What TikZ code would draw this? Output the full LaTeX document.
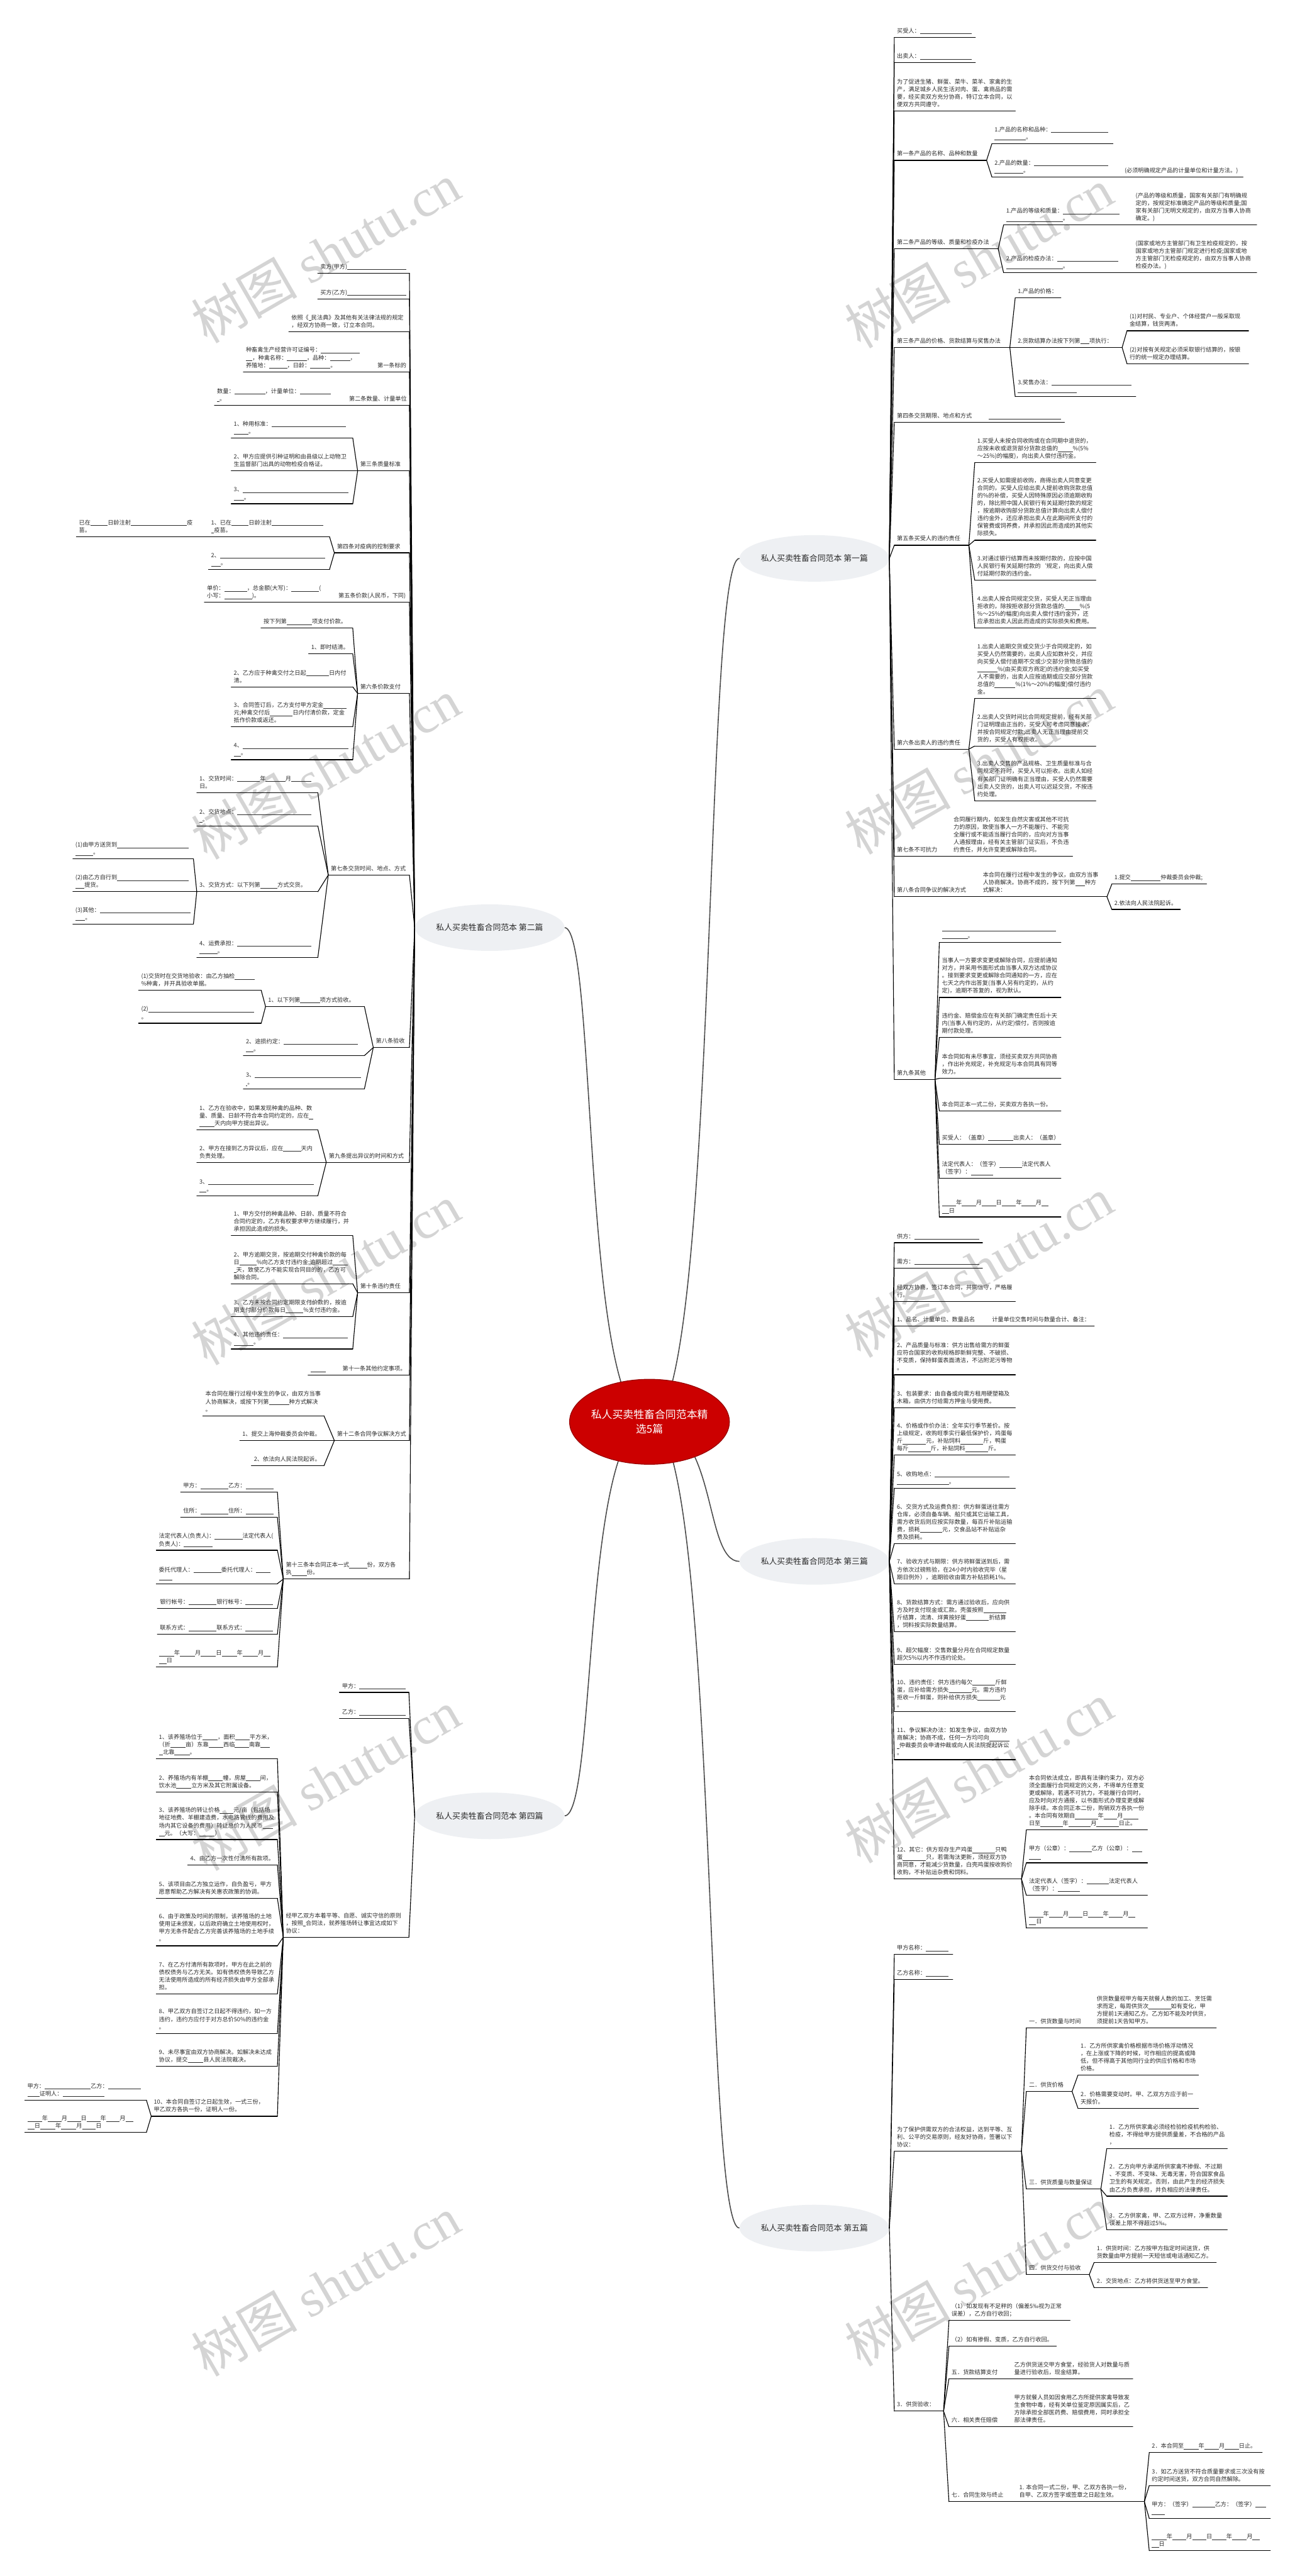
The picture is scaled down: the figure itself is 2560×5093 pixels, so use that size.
\documentclass[tikz,border=0pt]{standalone}
\usepackage{fontspec}
\setmainfont{Noto Sans CJK SC}
\newfontfamily\wmlat{Liberation Serif}
\usetikzlibrary{shapes.geometric}
\pgfdeclarelayer{bg}
\pgfsetlayers{bg,main}
\definecolor{txt}{HTML}{2B2B2B}
\definecolor{hubfill}{HTML}{EEF0F3}
\definecolor{cred}{HTML}{CC0000}
\newcommand{\bk}[1]{\rule[-1.8pt]{#1pt}{0.6pt}}
\newcommand{\LF}[5]{\pgfmathsetmacro{\lfw}{#3-#2-10}\node[leaf,text width=\lfw pt] (#1) at (#2,#4) {#5};\draw[conn] (#1.south west) -- (#1.south east);}
\newcommand{\cR}[2]{\foreach \chn in {#2}{\draw[conn] (#1.south east) -- (\chn.south west);}}
\newcommand{\cL}[2]{\foreach \chn in {#2}{\draw[conn] (#1.south west) -- (\chn.south east);}}
\newcommand{\hR}[2]{\foreach \chn in {#2}{\draw[conn] (#1.east) -- (\chn.south west);}}
\newcommand{\hL}[2]{\foreach \chn in {#2}{\draw[conn] (#1.west) -- (\chn.south east);}}
\begin{document}
\begin{tikzpicture}[x=1pt,y=-1pt,
  leaf/.style={anchor=south west, inner xsep=5pt, inner ysep=4pt, align=left, font=\fontsize{11.4pt}{15pt}\selectfont, text=txt, execute at end node=\strut},
  conn/.style={line width=1.4pt, black, line cap=round, line join=round},
  hub/.style={ellipse, fill=hubfill, minimum width=296pt, minimum height=92pt, inner sep=0pt, font=\fontsize{16pt}{20pt}\selectfont, text=txt},
  cnode/.style={ellipse, fill=cred, draw=cred!75!black, line width=1.5pt, minimum width=316pt, minimum height=168pt, inner sep=0pt},
  link/.style={line width=2pt, black!70},
  wm/.style={rotate=30, text=black!17, font=\fontsize{105pt}{105pt}\selectfont}]
\useasboundingbox (0,0) rectangle (2560,5093);
\begin{pgfonlayer}{bg}
\fill[white] (0,0) rectangle (2560,5093);
\foreach \wy in {500,1520,2520,3520,4520}{\node[wm] at (644,\wy) {树图 {\wmlat shutu.cn}};}
\foreach \wy in {510,1510,2505,3505,4500}{\node[wm] at (1935,\wy) {树图 {\wmlat shutu.cn}};}
\end{pgfonlayer}

% centre and hubs
\node[cnode] (c) at (1284,2811) {};
\node[text=white, align=center, font=\fontsize{21pt}{28pt}\selectfont] (ct) at (c.center) {私人买卖牲畜合同范本精\\选5篇};
\node[hub] (h1) at (1610,1104) {\makebox[0pt]{私人买卖牲畜合同范本 第一篇}};
\node[hub] (h2) at (968,1834) {\makebox[0pt]{私人买卖牲畜合同范本 第二篇}};
\node[hub] (h3) at (1610,3087) {\makebox[0pt]{私人买卖牲畜合同范本 第三篇}};
\node[hub] (h4) at (968,3590) {\makebox[0pt]{私人买卖牲畜合同范本 第四篇}};
\node[hub] (h5) at (1610,4405) {\makebox[0pt]{私人买卖牲畜合同范本 第五篇}};

% ---------- 第二篇 ----------
\LF{a1}{628}{809}{540}{卖方(甲方)\bk{117}}
\LF{a2}{628}{809}{591}{买方(乙方)\bk{117}}
\LF{a3}{571}{809}{656}{依照《\bk{5}民法典》及其他有关法律法规的规定\\，经双方协商一致，订立本合同。}
\LF{a4}{741}{809}{735}{第一条标的}
\LF{a4c}{481}{741}{735}{种畜禽生产经营许可证编号：\bk{77}\\\bk{13}，种禽名称：\bk{39}，品种：\bk{40}，\\养殖地：\bk{36}，日龄：\bk{40}。}
\LF{a5}{685}{809}{801}{第二条数量、计量单位}
\LF{a5c}{424}{685}{801}{数量：\bk{61}，计量单位：\bk{61}\\\bk{5}。}
\LF{a6}{707}{809}{931}{第三条质量标准}
\LF{a6a}{457}{697}{866}{1、种用标准：\bk{147}\\\bk{29}。}
\LF{a6b}{457}{697}{931}{2、甲方应提供引种证明和由县级以上动物卫\\生监督部门出具的动物检疫合格证。}
\LF{a6c}{457}{697}{996}{3、\bk{209}\\\bk{20}。}
\LF{a7}{661}{809}{1093}{第四条对疫病的控制要求}
\LF{a7a}{412}{651}{1061}{1、已在\bk{34}日龄注射\bk{102}\\\bk{6}疫苗。}
\LF{a7a1}{151}{412}{1061}{已在\bk{34}日龄注射\bk{111}疫\\苗。}
\LF{a7b}{412}{651}{1126}{2、\bk{208}\\\bk{19}。}
\LF{a8}{664}{809}{1191}{第五条价款(人民币，下同)}
\LF{a8c}{404}{664}{1191}{单价：\bk{45}，总金额(大写)：\bk{55}(\\小写：\bk{55})。}
\LF{a9}{707}{809}{1371}{第六条价款支付}
\LF{a9a}{516}{697}{1242}{按下列第\bk{50}项支付价款。}
\LF{a9b}{610}{697}{1293}{1、即时结清。}
\LF{a9c}{457}{697}{1358}{2、乙方应于种禽交付之日起\bk{45}日内付\\清。}
\LF{a9d}{457}{697}{1437}{3、合同签订后，乙方支付甲方定金\bk{45}\\元;种禽交付后\bk{45}日内付清价款，定金\\抵作价款或返还。}
\LF{a9e}{457}{697}{1502}{4、\bk{209}\\\bk{14}。}
\LF{a10}{649}{809}{1730}{第七条交货时间、地点、方式}
\LF{a10a}{389}{628}{1567}{1、交货时间：\bk{45}年\bk{39}月\bk{40}\\日。}
\LF{a10b}{389}{628}{1633}{2、交货地点：\bk{147}\\\bk{6}。}
\LF{a10c}{389}{628}{1763}{3、交货方式：以下列第\bk{34}方式交货。}
\LF{g10c1}{144}{382}{1698}{(1)由甲方送货到\bk{142}\\\bk{35}。}
\LF{g10c2}{144}{382}{1763}{(2)由乙方自行到\bk{142}\\\bk{18}提货。}
\LF{g10c3}{144}{382}{1827}{(3)其他：\bk{179}\\\bk{19}。}
\LF{a10d}{389}{628}{1893}{4、运费承担：\bk{147}\\\bk{36}。}
\LF{a11}{738}{809}{2071}{第八条验收}
\LF{a11a}{525}{720}{1990}{1、以下列第\bk{39}项方式验收。}
\LF{g11a1}{274}{516}{1958}{(1)交货时在交货地验收：由乙方抽检\bk{39}\\\%种禽，并开具验收单据。}
\LF{g11a2}{274}{516}{2023}{(2)\bk{209}\\。}
\LF{a11b}{481}{720}{2087}{2、途损约定：\bk{147}\\\bk{15}。}
\LF{a11c}{481}{720}{2153}{3、\bk{210}\\\bk{3}。}
\LF{a12}{645}{809}{2298}{第九条提出异议的时间和方式}
\LF{a12a}{389}{628}{2234}{1、乙方在验收中，如果发现种禽的品种、数\\量、质量、日龄不符合本合同约定的，应在\bk{9}\\\bk{30}天内向甲方提出异议。}
\LF{a12b}{389}{628}{2298}{2、甲方在接到乙方异议后，应在\bk{35}天内\\负责处理。}
\LF{a12c}{389}{628}{2364}{3、\bk{209}\\\bk{14}。}
\LF{a13}{707}{809}{2556}{第十条违约责任}
\LF{a13a}{457}{697}{2443}{1、甲方交付的种禽品种、日龄、质量不符合\\合同约定的，乙方有权要求甲方继续履行，并\\承担因此造成的损失。}
\LF{a13b}{457}{697}{2538}{2、甲方逾期交货，按逾期交付种禽价款的每\\日\bk{34}\%向乙方支付违约金;逾期超过\bk{30}\\\bk{5}天，致使乙方不能实现合同目的的，乙方可\\解除合同。}
\LF{a13c}{457}{697}{2603}{3、乙方未按合同约定期限支付价款的，按逾\\期支付部分价款每日\bk{35}\%支付违约金。}
\LF{a13d}{457}{697}{2667}{4、其他违约责任：\bk{128}\\\bk{39}。}
\LF{a14}{672}{809}{2719}{第十一条其他约定事项。}
\LF{a14c}{609}{672}{2719}{\bk{30}}
\LF{a15}{661}{809}{2848}{第十二条合同争议解决方式}
\LF{a15a}{401}{640}{2799}{本合同在履行过程中发生的争议，由双方当事\\人协商解决，或按下列第\bk{40}种方式解决\\。}
\LF{a15b}{474}{640}{2848}{1、提交上海仲裁委员会仲裁。}
\LF{a15c}{497}{640}{2898}{2、依法向人民法院起诉。}
\LF{a16}{560}{809}{3122}{第十三条本合同正本一式\bk{35}份，双方各\\执\bk{30}份。}
\LF{a16a}{357}{548}{2950}{甲方：\bk{55}乙方：\bk{55}}
\LF{a16b}{357}{548}{3000}{住所：\bk{55}住所：\bk{55}}
\LF{a16c}{309}{548}{3065}{法定代表人(负责人)：\bk{55}法定代表人(\\负责人)：\bk{56}}
\LF{a16d}{309}{548}{3131}{委托代理人：\bk{55}委托代理人：\bk{29}\\\bk{26}}
\LF{a16e}{311}{548}{3180}{银行帐号：\bk{55}银行帐号：\bk{55}}
\LF{a16f}{311}{548}{3231}{联系方式：\bk{55}联系方式：\bk{55}}
\LF{a16g}{309}{548}{3296}{\bk{30}年\bk{30}月\bk{30}日\bk{30}年\bk{30}月\bk{14}\\\bk{15}日}

\hL{h2}{a1,a2,a3,a4,a5,a6,a7,a8,a9,a10,a11,a12,a13,a14,a15,a16}
\cL{a4}{a4c}\cL{a5}{a5c}\cL{a6}{a6a,a6b,a6c}\cL{a7}{a7a,a7b}\cL{a7a}{a7a1}\cL{a8}{a8c}
\cL{a9}{a9a,a9b,a9c,a9d,a9e}\cL{a10}{a10a,a10b,a10c,a10d}\cL{a10c}{g10c1,g10c2,g10c3}
\cL{a11}{a11a,a11b,a11c}\cL{a11a}{g11a1,g11a2}\cL{a12}{a12a,a12b,a12c}\cL{a13}{a13a,a13b,a13c,a13d}
\cL{a14}{a14c}\cL{a15}{a15a,a15b,a15c}\cL{a16}{a16a,a16b,a16c,a16d,a16e,a16f,a16g}

% ---------- 第四篇 ----------
\LF{b1}{671}{808}{3346}{甲方：\bk{91}}
\LF{b2}{671}{808}{3398}{乙方：\bk{91}}
\LF{b3}{560}{808}{3830}{经甲乙双方本着平等、自愿、诚实守信的原则\\，按照\bk{5}合同法，就养殖场转让事宜达成如下\\协议：}
\LF{b3a}{309}{548}{3477}{1、该养殖场位于\bk{30}，面积\bk{29}平方米，\\（折\bk{30}亩）东靠\bk{29}西临\bk{28}南靠\bk{18}\\\bk{8}北靠\bk{30}。}
\LF{b3b}{309}{548}{3543}{2、养殖场内有羊棚\bk{29}幢，房屋\bk{28}间，\\饮水池\bk{30}立方米及其它附属设备。}
\LF{b3c}{309}{548}{3637}{3、该养殖场的转让价格\bk{27}元/亩（包括场\\地征地费、羊棚建造费，水电路管线的费用及\\场内其它设备的费用）转让总价为人民币\bk{20}\\\bk{11}元。（大写：\bk{31}）}
\LF{b3d}{371}{548}{3687}{4、由乙方一次性付清所有款项。}
\LF{b3e}{309}{548}{3753}{5、该项目由乙方独立运作，自负盈亏，甲方\\愿意帮助乙方解决有关惠农政策的协调。}
\LF{b3f}{309}{548}{3847}{6、由于政策及时间的限制，该养殖场的土地\\使用证未颁发，以后政府确立土地使用权时，\\甲方无条件配合乙方完善该养殖场的土地手续\\。}
\LF{b3g}{309}{548}{3942}{7、在乙方付清所有款项时，甲方在此之前的\\债权债务与乙方无关。如有债权债务导致乙方\\无法使用所造成的所有经济损失由甲方全部承\\担。}
\LF{b3h}{309}{548}{4020}{8、甲乙双方自签订之日起不得违约，如一方\\违约，违约方应付于对方总价50\%的违约金\\。}
\LF{b3i}{309}{548}{4085}{9、未尽事宜由双方协商解决。如解决未达成\\协议，提交\bk{31}县人民法院裁决。}
\LF{b3j}{299}{548}{4184}{10、本合同自签订之日起生效，一式三份，\\甲乙双方各执一份，证明人一份。}
\LF{g3j1}{49}{289}{4152}{甲方：\bk{91}乙方：\bk{65}\\\bk{24}证明人：\bk{82}}
\LF{g3j2}{49}{289}{4216}{\bk{29}年\bk{27}月\bk{27}日\bk{27}年\bk{27}月\bk{15}\\\bk{14}日\bk{30}年\bk{30}月\bk{27}日}

\hL{h4}{b1,b2,b3}
\cL{b3}{b3a,b3b,b3c,b3d,b3e,b3f,b3g,b3h,b3i,b3j}\cL{b3j}{g3j1,g3j2}

% ---------- 第一篇 ----------
\LF{c1}{1768}{1928}{74}{买受人：\bk{102}}
\LF{c2}{1768}{1928}{124}{出卖人：\bk{102}}
\LF{c3}{1768}{2007}{220}{为了促进生猪、鲜蛋、菜牛、菜羊、家禽的生\\产，满足城乡人民生活对肉、蛋、禽商品的需\\要，经买卖双方充分协商，特订立本合同，以\\便双方共同遵守。}
\LF{c4}{1768}{1950}{317}{第一条产品的名称、品种和数量}
\LF{c4a}{1961}{2200}{284}{1.产品的名称和品种：\bk{112}\\\bk{62}。}
\LF{c4b}{1961}{2218}{350}{2.产品的数量：\bk{147}\\\bk{57}。}
\LF{c4b1}{2218}{2457}{350}{(必须明确规定产品的计量单位和计量方法。)}
\LF{c5}{1768}{1973}{492}{第二条产品的等级、质量和检疫办法}
\LF{c5a}{1984}{2240}{445}{1.产品的等级和质量：\bk{112}\\\bk{112}。}
\LF{c5a1}{2240}{2484}{445}{(产品的等级和质量，国家有关部门有明确规\\定的，按规定标准确定产品的等级和质量;国\\家有关部门无明文规定的，由双方当事人协商\\确定。)}
\LF{c5b}{1984}{2240}{539}{2.产品的检疫办法：\bk{121}\\\bk{112}。}
\LF{c5b1}{2240}{2484}{539}{(国家或地方主管部门有卫生检疫规定的，按\\国家或地方主管部门规定进行检疫;国家或地\\方主管部门无检疫规定的，由双方当事人协商\\检疫办法。)}
\LF{c6}{1768}{1996}{687}{第三条产品的价格、货款结算与奖售办法}
\LF{c6a}{2007}{2097}{589}{1.产品的价格：}
\LF{c6b}{2007}{2218}{687}{2.货款结算办法按下列第\bk{18}项执行：}
\LF{c6b1}{2228}{2468}{654}{(1)对村民、专业户、个体经营户一般采取现\\金结算，钱货两清。}
\LF{c6b2}{2228}{2468}{719}{(2)对按有关规定必须采取银行结算的，按银\\行的统一规定办理结算。}
\LF{c6c}{2007}{2245}{784}{3.奖售办法：\bk{158}\\\bk{117}}
\LF{c7}{1768}{1946}{835}{第四条交货期限、地点和方式}
\LF{c7a}{1946}{2104}{835}{\hspace*{4pt}\bk{143}}
\LF{c8}{1768}{1915}{1078}{第五条买受人的违约责任}
\LF{c8a}{1927}{2166}{915}{1.买受人未按合同收购或在合同期中退货的，\\应按未收或退货部分货款总值的\bk{29}\%(5\%\\～25\%)的幅度)，向出卖人偿付违约金。}
\LF{c8b}{1927}{2166}{1068}{2.买受人如需提前收购，商得出卖人同意变更\\合同的，买受人应给出卖人提前收购货款总值\\的\%的补偿，买受人因特殊原因必须逾期收购\\的，除比照中国人民银行有关延期付款的规定\\，按逾期收购部分货款总值计算向出卖人偿付\\违约金外，还应承担出卖人在此期间所支付的\\保管费或饲养费，并承担因此而造成的其他实\\际损失。}
\LF{c8c}{1927}{2166}{1147}{3.对通过银行结算而未按期付款的，应按中国\\人民银行有关延期付款的`规定，向出卖人偿\\付延期付款的违约金。}
\LF{c8d}{1927}{2166}{1242}{4.出卖人按合同规定交货，买受人无正当理由\\拒收的，除按拒收部分货款总值的.\bk{28}\%(5\\\%～25\%的幅度)向出卖人偿付违约金外，还\\应承担出卖人因此而造成的实际损失和费用。}
\LF{c9}{1768}{1915}{1481}{第六条出卖人的违约责任}
\LF{c9a}{1927}{2166}{1381}{1.出卖人逾期交货或交货少于合同规定的，如\\买受人仍然需要的，出卖人应如数补交，并应\\向买受人偿付逾期不交或少交部分货物总值的\\\bk{40}\%(由买卖双方商定)的违约金;如买受\\人不需要的，出卖人应按逾期或应交部分货款\\总值的\bk{41}\%(1\%～20\%的幅度)偿付违约\\金。}
\LF{c9b}{1927}{2166}{1475}{2.出卖人交货时间比合同规定提前，经有关部\\门证明理由正当的，买受人可考虑同意接收，\\并按合同规定付款;出卖人无正当理由提前交\\货的，买受人有权拒收。}
\LF{c9c}{1927}{2166}{1583}{3.出卖人交售的产品规格、卫生质量标准与合\\同规定不符时，买受人可以拒收。出卖人如经\\有关部门证明确有正当理由，买受人仍然需要\\出卖人交货的，出卖人可以迟延交货，不按违\\约处理。}
\LF{c10}{1768}{1880}{1693}{第七条不可抗力}
\LF{c10a}{1880}{2120}{1693}{合同履行期内，如发生自然灾害或其他不可抗\\力的原因，致使当事人一方不能履行、不能完\\全履行或不能适当履行合同的，应向对方当事\\人通报理由，经有关主管部门证实后，不负违\\约责任，并允许变更或解除合同。}
\LF{c11}{1768}{1938}{1773}{第八条合同争议的解决方式}
\LF{c11a}{1938}{2188}{1773}{本合同在履行过程中发生的争议，由双方当事\\人协商解决。协商不成的，按下列第\bk{19}种方\\式解决：}
\LF{c11a1}{2198}{2385}{1748}{1.提交\bk{59}仲裁委员会仲裁;}
\LF{c11a2}{2198}{2333}{1798}{2.依法向人民法院起诉。}
\LF{c12}{1768}{1848}{2134}{第九条其他}
\LF{c12a}{1857}{2097}{1863}{\bk{225}\\\bk{51}。}
\LF{c12b}{1857}{2097}{1972}{当事人一方要求变更或解除合同，应提前通知\\对方，并采用书面形式由当事人双方达成协议\\。接到要求变更或解除合同通知的一方，应在\\七天之内作出答复(当事人另有约定的，从约\\定)，逾期不答复的，视为默认。}
\LF{c12c}{1857}{2097}{2051}{违约金、赔偿金应在有关部门确定责任后十天\\内(当事人有约定的，从约定)偿付，否则按逾\\期付款处理。}
\LF{c12d}{1857}{2097}{2132}{本合同如有未尽事宜，须经买卖双方共同协商\\，作出补充规定，补充规定与本合同具有同等\\效力。}
\LF{c12e}{1857}{2097}{2196}{本合同正本一式二份，买卖双方各执一份。}
\LF{c12f}{1857}{2097}{2262}{买受人：（盖章）\bk{50}出卖人：（盖章）}
\LF{c12g}{1857}{2097}{2330}{法定代表人：（签字）\bk{44}法定代表人\\（签字）：\bk{44}}
\LF{c12h}{1857}{2097}{2406}{\bk{28}年\bk{28}月\bk{28}日\bk{28}年\bk{28}月\bk{14}\\\bk{14}日}

\hR{h1}{c1,c2,c3,c4,c5,c6,c7,c8,c9,c10,c11,c12}
\cR{c4}{c4a,c4b}\cR{c4b}{c4b1}\cR{c5}{c5a,c5b}\cR{c5a}{c5a1}\cR{c5b}{c5b1}
\cR{c6}{c6a,c6b,c6c}\cR{c6b}{c6b1,c6b2}\cR{c7}{c7a}\cR{c8}{c8a,c8b,c8c,c8d}\cR{c9}{c9a,c9b,c9c}
\cR{c10}{c10a}\cR{c11}{c11a}\cR{c11a}{c11a1,c11a2}\cR{c12}{c12a,c12b,c12c,c12d,c12e,c12f,c12g,c12h}

% ---------- 第三篇 ----------
\LF{d1}{1768}{1942}{2457}{供方：\bk{128}}
\LF{d2}{1768}{1942}{2507}{需方：\bk{128}}
\LF{d3}{1768}{2007}{2573}{经双方协商，签订本合同，共同信守，严格履\\行。}
\LF{d4}{1768}{1956}{2622}{1、品名、计量单位、数量品名}
\LF{d4a}{1956}{2163}{2622}{计量单位交售时间与数量合计、备注：}
\LF{d5}{1768}{2007}{2718}{2、产品质量与标准：供方出售给需方的鲜蛋\\应符合国家的收购规格即新鲜完整、不破损、\\不变质，保持鲜蛋表面清洁，不沾附泥污等物\\。}
\LF{d6}{1768}{2007}{2783}{3、包装要求：由自备或向需方租用硬塑箱及\\木箱，由供方付给需方押金与使用费。}
\LF{d7}{1768}{2007}{2877}{4、价格或作价办法：全年实行季节差价。按\\上级规定，收购旺季实行最低保护价，鸡蛋每\\斤\bk{46}元，补贴饲料\bk{45}斤，鸭蛋\\每斤\bk{44}斤，补贴饲料\bk{45}斤。}
\LF{d8}{1768}{2007}{2942}{5、收购地点：\bk{148}\\\bk{103}。}
\LF{d9}{1768}{2007}{3052}{6、交货方式及运费负担：供方鲜蛋送往需方\\仓库，必须自备车辆、船只或其它运输工具，\\需方收货后则应按实际数量，每百斤补贴运输\\费，损耗\bk{44}元，交食品站不补贴运杂\\费及损耗。}
\LF{d10}{1768}{2007}{3131}{7、验收方式与期限：供方将鲜蛋送到后，需\\方依次过磅熊验，在24小时内验收完毕（星\\期日例外），逾期验收由需方补贴损耗1\%。}
\LF{d11}{1768}{2007}{3226}{8、货款结算方式：需方通过验收后，应向供\\方及时支付现金或汇款。壳蛋按照\bk{45}\\斤结算，流清、烊黄按好蛋\bk{45}折结算\\，饲料按实际数量结算。}
\LF{d12}{1768}{2007}{3291}{9、超欠幅度：交售数量分月在合同规定数量\\超欠5\%以内不作违约论处。}
\LF{d13}{1768}{2007}{3384}{10、违约责任：供方违约每欠\bk{45}斤鲜\\蛋，应补给需方损失\bk{45}元。需方违约\\拒收一斤鲜蛋，则补给供方损失\bk{44}元\\。}
\LF{d14}{1768}{2007}{3479}{11、争议解决办法：如发生争议，由双方协\\商解决；协商不成，任何一方均可向\bk{40}\\\bk{5}仲裁委员会申请仲裁或向人民法院提起诉讼\\。}
\LF{d15}{1768}{2019}{3715}{12、其它：供方现存生产鸡蛋\bk{45}只鸭\\蛋\bk{46}只，若需淘汰更新，须经双方协\\商同意，才能减少货数量，白壳鸡蛋按收购价\\收购，不补贴运杂费和饲料。}
\LF{d15a}{2029}{2268}{3618}{本合同依法成立，即具有法律约束力，双方必\\须全面履行合同规定的义务，不得单方任意变\\更或解除，若遇不可抗力，不能履行合同时，\\应及时向对方通报，以书面形式办理变更或解\\除手续。本合同正本二份，购销双方各执一份\\。本合同有效期自\bk{45}年\bk{27}月\bk{30}\\日至\bk{44}年\bk{44}月\bk{44}日止。}
\LF{d15b}{2029}{2268}{3683}{甲方（公章）：\bk{44}乙方（公章）：\bk{20}\\\bk{24}}
\LF{d15c}{2029}{2268}{3747}{法定代表人（签字）：\bk{44}法定代表人\\（签字）：\bk{44}}
\LF{d15d}{2029}{2268}{3812}{\bk{28}年\bk{28}月\bk{27}日\bk{29}年\bk{28}月\bk{13}\\\bk{14}日}

\hR{h3}{d1,d2,d3,d4,d5,d6,d7,d8,d9,d10,d11,d12,d13,d14,d15}
\cR{d4}{d4a}\cR{d15}{d15a,d15b,d15c,d15d}

% ---------- 第五篇 ----------
\LF{e1}{1768}{1883}{3864}{甲方名称：\bk{45}}
\LF{e2}{1768}{1883}{3914}{乙方名称：\bk{45}}
\LF{e3}{1768}{2019}{4253}{为了保护供需双方的合法权益，达到平等、互\\利、公平的交易原则，经友好协商，签署以下\\协议：}
\LF{e3a}{2029}{2163}{4009}{一．供货数量与时间}
\LF{e3a1}{2163}{2404}{4009}{供货数量视甲方每天就餐人数的加工、烹饪需\\求而定，每周供货次\bk{44}如有变化，甲\\方提前1天通知乙方。乙方如不能及时供货，\\须提前1天告知甲方。}
\LF{e3b}{2029}{2119}{4135}{二．供货价格}
\LF{e3b1}{2131}{2369}{4103}{1．乙方所供家禽价格根据市场价格浮动情况\\，在上涨或下降的时候，可作相应的提高或降\\低，但不得高于其他同行业的供应价格和市场\\价格。}
\LF{e3b2}{2131}{2369}{4168}{2．价格需要变动时。甲、乙双方方应于前一\\天报价。}
\LF{e3c}{2029}{2176}{4328}{三．供货质量与数量保证}
\LF{e3c1}{2188}{2426}{4248}{1．乙方所供家禽必须经检验检疫机构检验、\\检疫，不得给甲方提供质量差，不合格的产品\\，}
\LF{e3c2}{2188}{2426}{4342}{2．乙方向甲方承诺所供家禽不掺假、不过期\\、不变质、不变味、无毒无害，符合国家食品\\卫生的有关规定。否则，由此产生的经济损失\\由乙方负责承担，并负相应的法律责任。}
\LF{e3c3}{2188}{2426}{4408}{3．乙方供家禽，甲、乙双方过秤，净重数量\\误差上限不得超过5‰。}
\LF{e3d}{2029}{2153}{4497}{四．供货交付与验收}
\LF{e3d1}{2163}{2404}{4473}{1．供货时间：乙方按甲方指定时间送货，供\\货数量由甲方提前一天短信或电话通知乙方。}
\LF{e3d2}{2163}{2387}{4523}{2．交货地点：乙方将供货送至甲方食堂。}
\LF{e4}{1768}{1865}{4767}{3．供货验收：}
\LF{e4a}{1876}{2115}{4588}{（1）如发现有不足秤的（偏差5‰视为正常\\误差），乙方自行收回；}
\LF{e4b}{1876}{2088}{4639}{（2）如有掺假、变质，乙方自行收回。}
\LF{e4c}{1876}{2000}{4703}{五．货款结算支付}
\LF{e4c1}{2000}{2239}{4703}{乙方供货送交甲方食堂，经验货人对数量与质\\量进行验收后，现金结算。}
\LF{e4d}{1876}{2000}{4798}{六．相关责任赔偿}
\LF{e4d1}{2000}{2239}{4798}{甲方就餐人员如因食用乙方所提供家禽导致发\\生食物中毒，经有关单位鉴定原因属实后，乙\\方除承担全部医药费、赔偿费用，同时承担全\\部法律责任。}
\LF{e4e}{1876}{2010}{4946}{七．合同生效与终止}
\LF{e4e1}{2010}{2262}{4946}{1.~本合同一式二份，甲、乙双方各执一份，\\自甲、乙双方签字或签章之日起生效。}
\LF{g4e1}{2272}{2495}{4849}{2．本合同至\bk{29}年\bk{29}月\bk{28}日止。}
\LF{g4e2}{2272}{2511}{4914}{3．如乙方送货不符合质量要求或三次没有按\\约定时间送货，双方合同自然解除。}
\LF{g4e3}{2272}{2511}{4979}{甲方：（签字）\bk{45}乙方：（签字）\bk{21}\\\bk{25}}
\LF{g4e4}{2272}{2511}{5043}{\bk{29}年\bk{28}月\bk{28}日\bk{28}年\bk{29}月\bk{14}\\\bk{14}日}

\hR{h5}{e1,e2,e3,e4}
\cR{e3}{e3a,e3b,e3c,e3d}\cR{e3a}{e3a1}\cR{e3b}{e3b1,e3b2}\cR{e3c}{e3c1,e3c2,e3c3}\cR{e3d}{e3d1,e3d2}
\cR{e4}{e4a,e4b,e4c,e4d,e4e}\cR{e4c}{e4c1}\cR{e4d}{e4d1}\cR{e4e}{e4e1}\cR{e4e1}{g4e1,g4e2,g4e3,g4e4}

% centre links
\begin{pgfonlayer}{bg}
\draw[link] (c.center) .. controls (1420,2811) and (1390,1104) .. (h1.west);
\draw[link] (c.center) .. controls (1420,2811) and (1390,3087) .. (h3.west);
\draw[link] (c.center) .. controls (1420,2811) and (1390,4405) .. (h5.west);
\draw[link] (c.center) .. controls (1150,2811) and (1180,1834) .. (h2.east);
\draw[link] (c.center) .. controls (1150,2811) and (1180,3590) .. (h4.east);
\end{pgfonlayer}
\end{tikzpicture}
\end{document}
